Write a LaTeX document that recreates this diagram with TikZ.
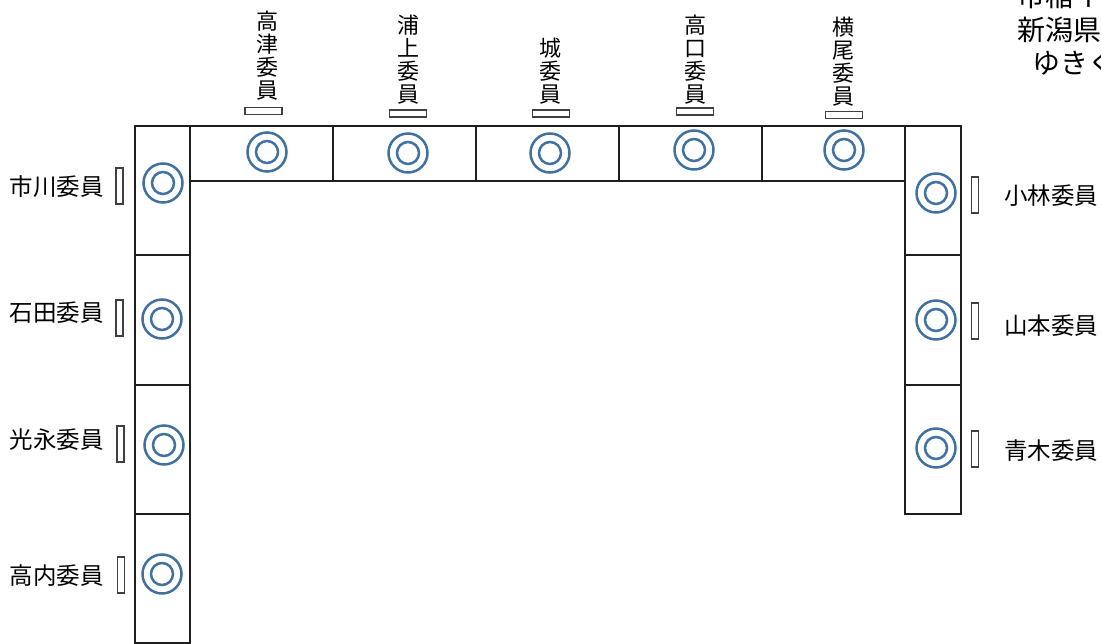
\documentclass[tikz,border=0pt]{standalone}
\usepackage{fontspec}
\setmainfont{Noto Sans CJK JP}
\definecolor{ringblue}{RGB}{65,113,160}
\definecolor{lineblack}{RGB}{30,30,30}
\begin{document}
\begin{tikzpicture}[x=1pt,y=-1pt,
  seat/.style={draw=lineblack, line width=1.3pt, inner sep=0, outer sep=0},
  ring/.style={circle, draw=ringblue, line width=2.5pt, minimum size=39pt, inner sep=0},
  vplate/.style={draw=lineblack!85, line width=1.2pt, minimum width=7pt, minimum height=36pt, inner sep=0},
  hplate/.style={draw=lineblack!85, line width=1.2pt, minimum width=37pt, minimum height=7pt, inner sep=0},
  sidelabel/.style={font=\fontsize{23.5}{25}\selectfont, inner sep=0},
  toplabel/.style={font=\fontsize{22}{23.2}\selectfont, align=center, inner sep=0, anchor=south},
  headlabel/.style={font=\fontsize{28}{30}\selectfont, inner sep=0, anchor=west}
]
\useasboundingbox (0,0) rectangle (1101,644);
\fill[white] (0,0) rectangle (1101,644);

% left column seats
\node[seat, minimum width=55pt, minimum height=129pt] (L1) at (162.5,190.5) {};
\node[seat, minimum width=55pt, minimum height=130pt] (L2) at (162.5,320) {};
\node[seat, minimum width=55pt, minimum height=129pt] (L3) at (162.5,449.5) {};
\node[seat, minimum width=55pt, minimum height=129pt] (L4) at (162.5,578.5) {};
% top row seats
\node[seat, minimum width=143pt, minimum height=55pt] (T1) at (261.5,153.5) {};
\node[seat, minimum width=143pt, minimum height=55pt] (T2) at (404.5,153.5) {};
\node[seat, minimum width=143pt, minimum height=55pt] (T3) at (547.5,153.5) {};
\node[seat, minimum width=142pt, minimum height=55pt] (T4) at (690.5,153.5) {};
\node[seat, minimum width=143pt, minimum height=55pt] (T5) at (833.5,153.5) {};
% right column seats
\node[seat, minimum width=56pt, minimum height=129pt] (R1) at (933,190.5) {};
\node[seat, minimum width=56pt, minimum height=130pt] (R2) at (933,320) {};
\node[seat, minimum width=56pt, minimum height=129pt] (R3) at (933,449.5) {};

% rings
\foreach \n/\x/\y in {cL1/163/183, cL2/162/319, cL3/164/445, cL4/162/574,
                      cT1/267/152, cT2/408/153, cT3/550/153, cT4/694/150, cT5/844/150,
                      cR1/936/193, cR2/936/320, cR3/936/448} {
  \node[ring] (\n) at (\x,\y) {};
  \draw[ringblue, line width=2.5pt] (\n.center) circle (11);
}

% name plates
\node[vplate] (pL1) at (119.5,186) {};
\node[vplate] (pL2) at (119.5,318) {};
\node[vplate] (pL3) at (120.5,444) {};
\node[vplate] (pL4) at (121,575) {};
\node[vplate] (pR1) at (975,195) {};
\node[vplate] (pR2) at (975,321) {};
\node[vplate] (pR3) at (975,449) {};
\node[hplate] (pT1) at (263.5,111) {};
\node[hplate] (pT2) at (408,113.5) {};
\node[hplate] (pT3) at (551,113.5) {};
\node[hplate] (pT4) at (695,111.5) {};
\node[hplate] (pT5) at (844,115) {};

% side labels
\node[sidelabel, anchor=east] (nL1) at (104,187) {市川委員};
\node[sidelabel, anchor=east] (nL2) at (104,313) {石田委員};
\node[sidelabel, anchor=east] (nL3) at (104,440) {光永委員};
\node[sidelabel, anchor=east] (nL4) at (104,576) {高内委員};
\node[sidelabel, anchor=west] (nR1) at (1004,196) {小林委員};
\node[sidelabel, anchor=west] (nR2) at (1004,326) {山本委員};
\node[sidelabel, anchor=west] (nR3) at (1004,451) {青木委員};

% top labels (vertical)
\node[toplabel] (nT1) at (267,101) {高\\津\\委\\員};
\node[toplabel] (nT2) at (408,105) {浦\\上\\委\\員};
\node[toplabel] (nT3) at (550,105) {城\\委\\員};
\node[toplabel] (nT4) at (695,105) {高\\口\\委\\員};
\node[toplabel] (nT5) at (843,107) {横\\尾\\委\\員};

% heading (cut off at the page edge, as in the reference)
\begin{scope}
  \clip (0,0) rectangle (1101,644);
  \node[headlabel] (h1) at (1017,-4) {市稲イ};
  \node[headlabel] (h2) at (1017,30) {新潟県南};
  \node[headlabel] (h3) at (1032,63) {ゆきぐに};
\end{scope}
\end{tikzpicture}
\end{document}
